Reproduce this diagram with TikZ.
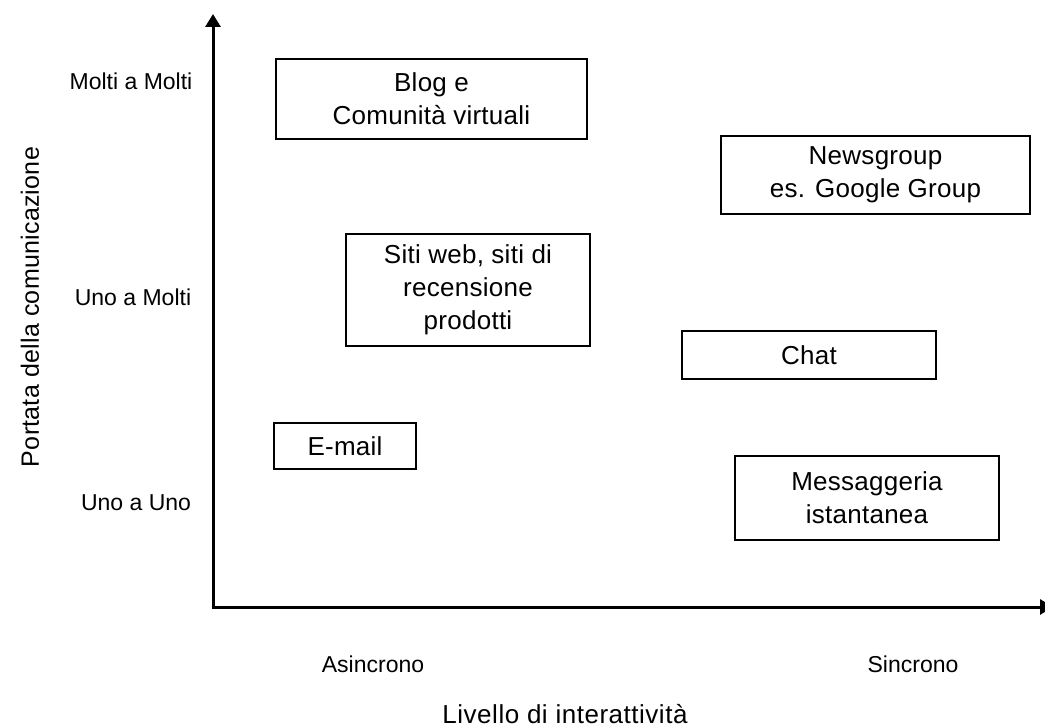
\documentclass[tikz,border=0pt]{standalone}
\usepackage{fontspec}
\setmainfont{Liberation Sans}
\newfontfamily\boxfont[LetterSpace=1]{Liberation Sans}
\newfontfamily\axfont{Liberation Sans}
\newfontfamily\ttlfont[LetterSpace=2]{Liberation Sans}
\newfontfamily\yfont[LetterSpace=1]{Liberation Sans}
\usetikzlibrary{arrows.meta}
\begin{document}
\begin{tikzpicture}[x=1pt,y=-1pt,
  catbox/.style={draw, line width=1.3pt, align=center, inner sep=0pt,
     font=\boxfont\fontsize{26}{33}\selectfont},
  axlab/.style={font=\axfont\fontsize{23}{27}\selectfont},
  titlelab/.style={font=\ttlfont\fontsize{26}{30}\selectfont},
  ylab/.style={font=\yfont\fontsize{25}{29}\selectfont},
  axisline/.style={line width=3pt, -{Triangle[width=15pt,length=13pt]}}]
\useasboundingbox (0,0) rectangle (1045,727);
\coordinate (o) at (213,607);
\coordinate (ytop) at (213,14);
\coordinate (xend) at (1053,607);
\draw[axisline] ([yshift=1.5pt]o) -- (ytop);
\draw[axisline] ([xshift=-1.5pt]o) -- (xend);

\node[axlab] (mm) at (131,81) {Molti a Molti};
\node[axlab] (um) at (133,297) {Uno a Molti};
\node[axlab] (uu) at (136,503) {Uno a Uno};
\node[axlab] (as) at (373,664) {Asincrono};
\node[axlab] (si) at (913,664) {Sincrono};
\node[titlelab] (xl) at (565,714) {Livello di interattività};
\node[ylab, rotate=90] (yl) at (30,307) {Portata della comunicazione};

\node[catbox, minimum width=311pt, minimum height=80pt] (blog) at (431.5,99) {Blog e\\Comunità virtuali};
\node[catbox, minimum width=309pt, minimum height=78pt] (news) at (875.5,175) {Newsgroup\\es. Google Group};
\node[catbox, minimum width=244pt, minimum height=112pt] (siti) at (468,290) {Siti web, siti di\\recensione\\prodotti};
\node[catbox, minimum width=254pt, minimum height=48pt] (chat) at (809,355) {Chat};
\node[catbox, minimum width=142pt, minimum height=46pt] (mail) at (345,446) {E-mail};
\node[catbox, minimum width=264pt, minimum height=84pt] (msg) at (867,498) {Messaggeria\\istantanea};
\end{tikzpicture}
\end{document}
